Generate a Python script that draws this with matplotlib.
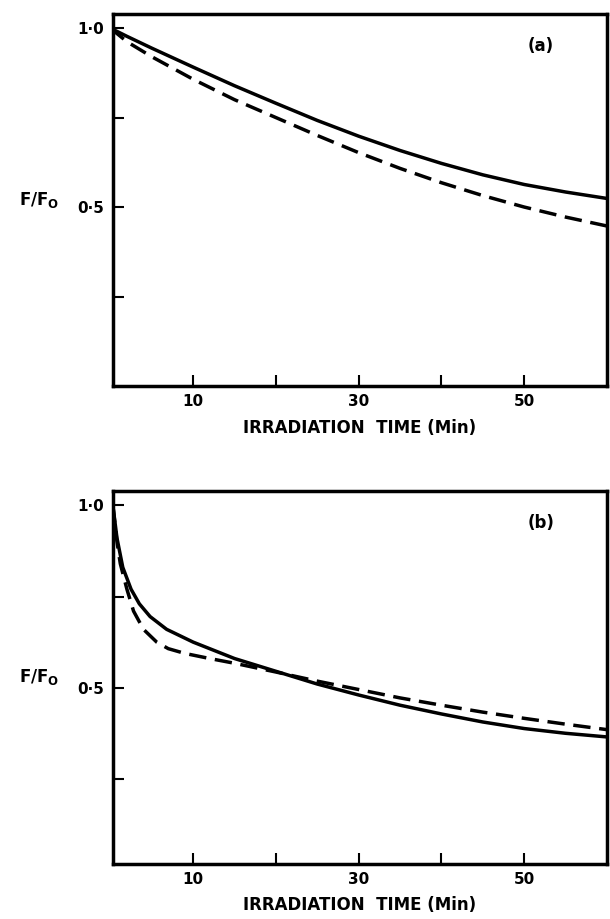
import numpy as np
import matplotlib
matplotlib.use("Agg")
import matplotlib.pyplot as plt

# values (time in min, F/F0)
t_a = [0, 2, 5, 10, 15, 20, 25, 30, 35, 40, 45, 50, 55, 60]
solid_a = [1.0, 0.977, 0.944, 0.891, 0.839, 0.79, 0.742, 0.698, 0.658, 0.622, 0.59, 0.563, 0.542, 0.524]
dash_a = [1.0, 0.962, 0.92, 0.857, 0.80, 0.75, 0.70, 0.652, 0.608, 0.568, 0.532, 0.50, 0.472, 0.447]

t_b = [0.3, 0.8, 1.5, 2.5, 3.5, 4.8, 6.8, 10, 15, 20, 25, 30, 35, 40, 45, 50, 55, 60]
solid_b = [1.0, 0.91, 0.83, 0.77, 0.73, 0.695, 0.66, 0.625, 0.58, 0.545, 0.51, 0.48,
           0.452, 0.428, 0.406, 0.388, 0.375, 0.365]
t_b2 = [0.3, 0.8, 1.2, 2.0, 2.8, 4.0, 5.6, 7, 9, 12, 15, 20, 25, 30, 35, 40, 45, 50, 55, 60]
dash_b = [1.0, 0.9, 0.84, 0.77, 0.71, 0.66, 0.625, 0.607, 0.594, 0.58, 0.567, 0.543, 0.518,
          0.495, 0.472, 0.452, 0.433, 0.416, 0.40, 0.385]

xticks = [10, 20, 30, 40, 50]
xlabels = ["10", "", "30", "", "50"]
yticks = [0.25, 0.5, 0.75, 1.0]
ylabels = ["", "0·5", "", "1·0"]

fig = plt.figure(figsize=(6.1, 9.19), dpi=100)
ax1 = fig.add_axes([0.185, 0.58, 0.81, 0.405])
ax2 = fig.add_axes([0.185, 0.06, 0.81, 0.406])


def style(ax, ylo, panel, pad):
    ax.set_xlim(0.3, 60)
    ax.set_ylim(ylo, 1.04)
    ax.set_xticks(xticks)
    ax.set_xticklabels(xlabels, fontsize=11, fontweight="bold")
    ax.set_yticks(yticks)
    ax.set_yticklabels(ylabels, fontsize=11, fontweight="bold")
    ax.tick_params(direction="in", length=8, width=1.5, pad=6)
    for s in ax.spines.values():
        s.set_linewidth(2.5)
    ax.set_xlabel("IRRADIATION  TIME (Min)", fontsize=12, fontweight="bold", labelpad=pad)
    ax.text(0.84, 0.9, panel, transform=ax.transAxes, fontsize=12, fontweight="bold")
    ax.text(-0.15, 0.5, r"$\mathbf{F/F_O}$", transform=ax.transAxes, fontsize=12,
            ha="center", va="center")


ax1.plot(t_a, solid_a, color="k", lw=2.5)
ax1.plot(t_a, dash_a, color="k", lw=2.5, dashes=(5, 2.5))
style(ax1, 0.0, "(a)", 7)

ax2.plot(t_b, solid_b, color="k", lw=2.5)
ax2.plot(t_b2, dash_b, color="k", lw=2.5, dashes=(5, 2.5))
style(ax2, 0.017, "(b)", 6)

fig.savefig("out.png", dpi=100)
